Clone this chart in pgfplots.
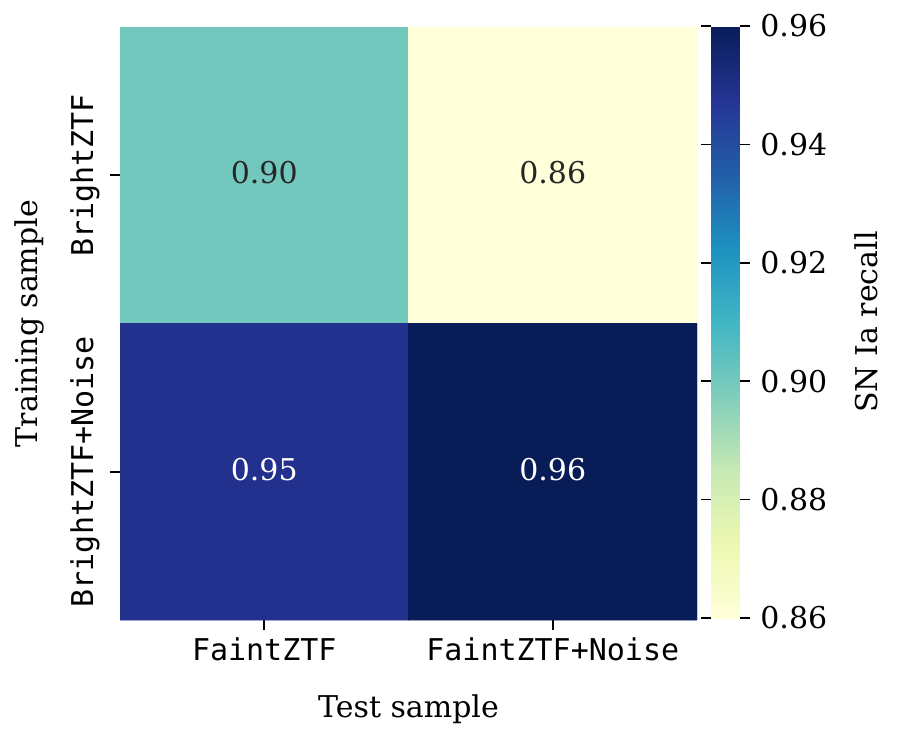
\documentclass[border=0pt]{standalone}
\usepackage{fontspec}
\setmainfont{DejaVu Serif}
\newfontfamily\monofont{DejaVu Sans Mono}
\usepackage{pgfplots}
\pgfplotsset{compat=1.18}
\definecolor{annot}{HTML}{262626}
\pgfplotsset{every tick/.style={black, line width=0.8pt}}
\begin{document}
\fontsize{15}{18}\selectfont
\begin{tikzpicture}
\useasboundingbox (0,0) rectangle (448.5pt,369.5pt);
\begin{axis}[
  at={(60pt,59.5pt)}, anchor=south west,
  scale only axis, width=288.5pt, height=296.5pt,
  xmin=-0.5, xmax=1.5, ymin=-0.5, ymax=1.5, y dir=reverse,
  enlargelimits=false,
  axis line style={draw=none},
  tick pos=left, tick align=outside, major tick length=5pt,
  xtick={0,1}, xticklabels={FaintZTF,FaintZTF+Noise},
  ytick={0,1}, yticklabels={BrightZTF,BrightZTF+Noise},
  ticklabel style={font=\monofont\fontsize{15}{18}\selectfont},
  yticklabel style={rotate=90, anchor=south},
  xticklabel style={yshift=1.5pt},
  xlabel={Test sample}, ylabel={Training sample},
  label style={font=\fontsize{15}{18}\selectfont},
  xlabel style={at={(axis description cs:0.5,-0.1636)}, anchor=base},
  ylabel style={at={(axis description cs:-0.1438,0.5)}, anchor=base},
  colormap={YlGnBu}{rgb255(0)=(255,255,217) rgb255(1)=(237,248,177) rgb255(2)=(199,233,180) rgb255(3)=(127,205,187) rgb255(4)=(65,182,196) rgb255(5)=(29,145,192) rgb255(6)=(34,94,168) rgb255(7)=(37,52,148) rgb255(8)=(8,29,88)},
  point meta min=0.86, point meta max=0.96,
  colorbar,
  colorbar shift/.style={xshift=7pt, yshift=0.5pt},
  colorbar style={
    width=14.5pt, height=296pt,
    at={(parent axis.north east)}, anchor=north west,
    axis line style={draw=none},
    ytick={0.86,0.88,0.90,0.92,0.94,0.96},
    tick align=outside, major tick length=5pt,
    yticklabel style={font=\fontsize{15}{18}\selectfont, /pgf/number format/.cd, fixed, fixed zerofill, precision=2, assume math mode=true},
    ylabel={SN Ia recall},
    ylabel style={font=\fontsize{15}{18}\selectfont, at={(axis description cs:5.724,0.5)}, anchor=base},
  },
]
\addplot[matrix plot*, mesh/cols=2, point meta=explicit] table[meta=c] {
x y c
0 0 0.900
1 0 0.860
0 1 0.949
1 1 0.960
};
\node[text=annot, font=\fontsize{15}{18}\selectfont, yshift=1.2pt] at (axis cs:0,0) {0.90};
\node[text=annot, font=\fontsize{15}{18}\selectfont, yshift=1.2pt] at (axis cs:1,0) {0.86};
\node[text=white, font=\fontsize{15}{18}\selectfont, yshift=1.2pt] at (axis cs:0,1) {0.95};
\node[text=white, font=\fontsize{15}{18}\selectfont, yshift=1.2pt] at (axis cs:1,1) {0.96};
\end{axis}
\end{tikzpicture}
\end{document}
